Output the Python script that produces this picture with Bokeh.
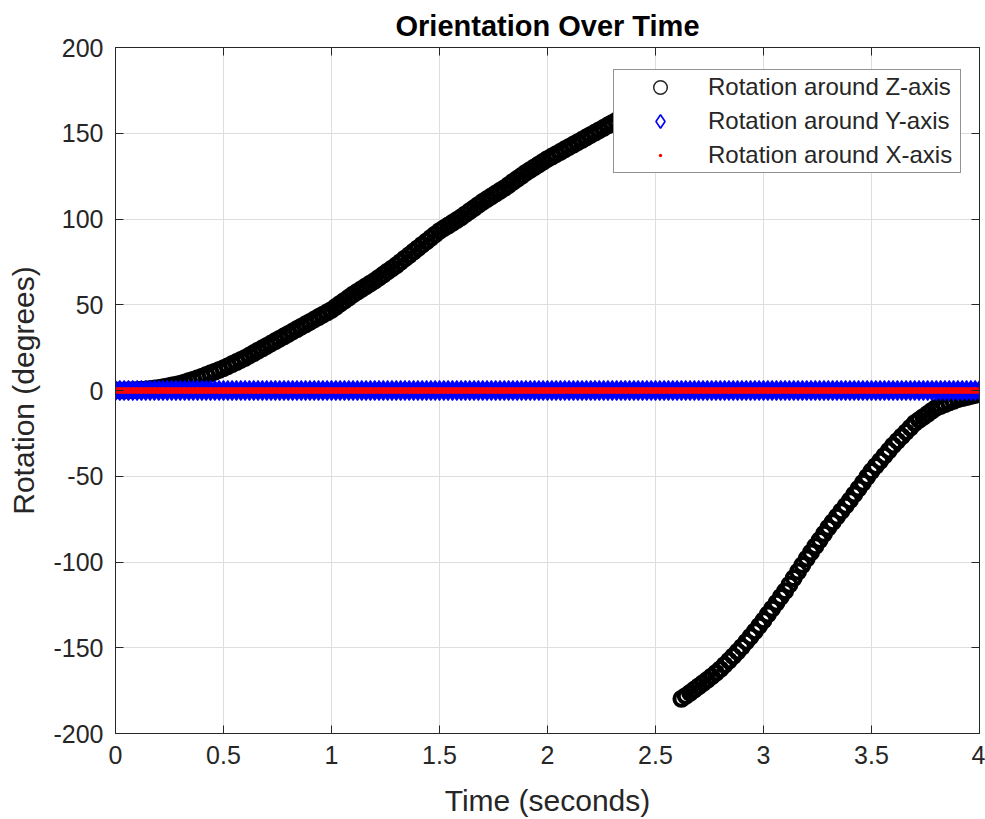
from bokeh.plotting import figure
from bokeh.models import (ColumnDataSource, Range1d, FixedTicker, LinearAxis,
                          Legend, LegendItem)
from bokeh.embed import file_html
from bokeh.resources import INLINE

# ---------------- data ----------------
time_s = [round(i * 0.02, 2) for i in range(201)]

rot_z = [
    0, 0.01, 0.05, 0.11, 0.19,
    0.3, 0.45, 0.65, 0.9, 1.2,
    1.5, 1.9, 2.4, 2.9, 3.4,
    4, 4.7, 5.5, 6.3, 7.1,
    8, 9, 10, 11, 12,
    13, 14.2, 15.4, 16.6, 17.8,
    19, 20.4, 21.8, 23.2, 24.6,
    26, 27.4, 28.8, 30.2, 31.6,
    33, 34.4, 35.8, 37.2, 38.6,
    40, 41.4, 42.8, 44.2, 45.6,
    47, 48.8, 50.6, 52.4, 54.2,
    56, 57.6, 59.2, 60.8, 62.4,
    64, 65.8, 67.6, 69.4, 71.2,
    73, 75, 77, 79, 81,
    83, 85, 87, 89, 91,
    93, 94.6, 96.2, 97.8, 99.4,
    101, 102.8, 104.6, 106.4, 108.2,
    110, 111.6, 113.2, 114.8, 116.4,
    118, 119.8, 121.6, 123.4, 125.2,
    127, 128.6, 130.2, 131.8, 133.4,
    135, 136.4, 137.8, 139.2, 140.6,
    142, 143.4, 144.8, 146.2, 147.6,
    149, 150.4, 151.8, 153.2, 154.6,
    156, 157.4, 158.8, 160.2, 161.6,
    163, 164.4, 165.8, 167.2, 168.6,
    170, 171.7, 173.4, 175.1, 176.8,
    178.5, -179.8, -178.1, -176.3, -174.4,
    -172.5, -170.6, -168.7, -166.7, -164.6,
    -162.5, -160, -157.5, -154.9, -152.2,
    -149.5, -146.5, -143.5, -140.4, -137.2,
    -134, -130.6, -127.2, -123.8, -120.4,
    -117, -113.2, -109.4, -105.6, -101.8,
    -98, -94.4, -90.8, -87.2, -83.6,
    -80, -76.8, -73.6, -70.4, -67.2,
    -64, -60.6, -57.2, -53.8, -50.4,
    -47, -44, -41, -38, -35,
    -32, -29.4, -26.8, -24.2, -21.6,
    -19, -17.2, -15.4, -13.6, -11.8,
    -10, -9, -8, -7, -6,
    -5, -4.4, -3.8, -3.2, -2.6,
    -2,
]
rot_y = [0.0] * len(time_s)
rot_x = [0.0] * len(time_s)

series_labels = ["Rotation around Z-axis", "Rotation around Y-axis", "Rotation around X-axis"]

x_ticks = [0, 0.5, 1, 1.5, 2, 2.5, 3, 3.5, 4]
x_tick_labels = ["0", "0.5", "1", "1.5", "2", "2.5", "3", "3.5", "4"]
y_ticks = [-200, -150, -100, -50, 0, 50, 100, 150, 200]
y_tick_labels = ["-200", "-150", "-100", "-50", "0", "50", "100", "150", "200"]

# ---------------- figure ----------------
FONT = "Liberation Sans"
AX = "#262626"

src = ColumnDataSource(dict(t=time_s, z=rot_z, y=rot_y, x=rot_x))

p = figure(width=985, height=819, x_range=Range1d(0, 4), y_range=Range1d(-200, 200),
           output_backend="svg", toolbar_location=None,
           min_border_left=115, min_border_right=6, min_border_top=47, min_border_bottom=86,
           title="Orientation Over Time")
p.background_fill_color = "white"
p.border_fill_color = "white"
p.outline_line_color = AX
p.outline_line_width = 1

p.title.align = "center"
p.title.text_font = FONT
p.title.text_font_size = "29px"
p.title.text_font_style = "bold"
p.title.text_color = "#000000"
p.title.standoff = 11

for ax, ticks, labels in ((p.xaxis[0], x_ticks, x_tick_labels), (p.yaxis[0], y_ticks, y_tick_labels)):
    ax.ticker = FixedTicker(ticks=ticks)
    ax.major_label_overrides = {float(t): l for t, l in zip(ticks, labels)}
    ax.major_label_text_font = FONT
    ax.major_label_text_font_size = "25px"
    ax.major_label_text_color = AX
    ax.axis_label_text_font = FONT
    ax.axis_label_text_font_size = "30px"
    ax.axis_label_text_font_style = "normal"
    ax.axis_label_text_color = AX
    ax.axis_line_color = AX
    ax.major_tick_line_color = AX
    ax.major_tick_in = 8
    ax.major_tick_out = 0
    ax.minor_tick_line_color = None
    ax.major_label_standoff = 12

p.xaxis[0].axis_label = "Time (seconds)"
p.yaxis[0].axis_label = "Rotation (degrees)"
p.xaxis[0].axis_label_standoff = 17
p.yaxis[0].axis_label_standoff = 10

# box ticks on top and right (no labels drawn)
for side, ticks in (("above", x_ticks), ("right", y_ticks)):
    a = LinearAxis(ticker=FixedTicker(ticks=ticks), major_label_text_font_size="1px",
                   major_label_text_color=None,
                   major_label_standoff=0, major_tick_in=8, major_tick_out=0,
                   minor_tick_line_color=None, axis_line_color=AX,
                   major_tick_line_color=AX)
    p.add_layout(a, side)

for g in (p.xgrid[0], p.ygrid[0]):
    g.grid_line_color = "#dedede"
    g.grid_line_width = 1

# data renderers
rz = p.scatter("t", "z", source=src, marker="circle", size=14,
               line_color="black", line_width=4, fill_color=None)
ry = p.scatter("t", "y", source=src, marker="diamond", size=20,
               line_color="blue", line_width=1.2, fill_color="blue")
rx = p.scatter("t", "x", source=src, marker="circle", size=7,
               line_color=None, fill_color="red")

# legend proxies (unfilled markers, as in the reference legend)
proxy = ColumnDataSource(dict(a=[float("nan")], b=[float("nan")]))
lz = p.scatter("a", "b", source=proxy, marker="circle", size=14,
               line_color="#262626", line_width=1.5, fill_color=None)
ly = p.scatter("a", "b", source=proxy, marker="diamond", size=20,
               line_color="blue", line_width=1.6, fill_color=None)
lx = p.scatter("a", "b", source=proxy, marker="dot", size=20,
               line_color="red", line_width=3, fill_color="red")

legend = Legend(items=[LegendItem(label=series_labels[0], renderers=[lz]),
                       LegendItem(label=series_labels[1], renderers=[ly]),
                       LegendItem(label=series_labels[2], renderers=[lx])],
                location=(498, 560))
legend.label_text_font = FONT
legend.label_text_font_size = "24px"
legend.label_text_color = AX
legend.border_line_color = AX
legend.border_line_width = 1
legend.background_fill_color = "white"
legend.background_fill_alpha = 1
legend.glyph_width = 92
legend.glyph_height = 34
legend.label_height = 34
legend.label_width = 252
legend.label_standoff = 2
legend.padding = 0
legend.spacing = 0
legend.margin = 0
p.add_layout(legend)

open("out.html", "w").write(file_html(p, INLINE))
